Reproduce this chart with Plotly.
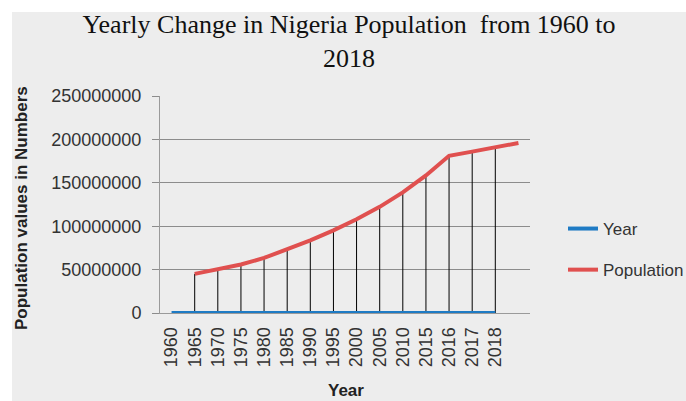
import plotly.graph_objects as go

# ---- data ----
years = ["1960", "1965", "1970", "1975", "1980", "1985", "1990", "1995",
         "2000", "2005", "2010", "2015", "2016", "2017", "2018"]
year_values = [1960, 1965, 1970, 1975, 1980, 1985, 1990, 1995,
               2000, 2005, 2010, 2015, 2016, 2017, 2018]
population = [45100000, 50200000, 55900000, 63400000, 73400000, 83600000,
              95200000, 107900000, 122300000, 138900000, 158500000,
              181100000, 185900000, 190900000, 195900000]
y_ticks = [0, 50000000, 100000000, 150000000, 200000000, 250000000]

# category slots: the Year series occupies slots 0..14, the Population
# series is shifted one slot to the right (slots 1..15), as in the original
year_x = list(range(len(year_values)))
pop_x = [i + 1 for i in range(len(population))]

# drop lines at categories where both series have points
drop_x, drop_y = [], []
for k in range(len(years) - 1):
    drop_x += [pop_x[k], pop_x[k], None]
    drop_y += [0, population[k], None]

W, H = 686, 401
L, R, T, B = 160, 156, 96, 88
PW, PH = W - L - R, H - T - B


def px(x):
    return (x - L) / PW


def py(y):
    return (H - B - y) / PH


fig = go.Figure()
fig.add_trace(go.Scatter(x=drop_x, y=drop_y, mode="lines",
                         line=dict(color="black", width=1),
                         showlegend=False, hoverinfo="skip"))
fig.add_trace(go.Scatter(x=year_x, y=year_values, mode="lines", name="Year",
                         line=dict(color="#1F7BC4", width=4),
                         legendgroup="a"))
fig.add_trace(go.Scatter(x=pop_x, y=population, mode="lines", name="Population",
                         line=dict(color="#E0504F", width=4),
                         legendgroup="b"))

fig.update_layout(
    width=W, height=H, autosize=False,
    margin=dict(l=L, r=R, t=T, b=B, pad=0, autoexpand=False),
    paper_bgcolor="white", plot_bgcolor="white",
    font=dict(family="Liberation Sans", size=18, color="#333333"),
    title=dict(text="Yearly Change in Nigeria Population  from 1960 to<br>2018",
               font=dict(family="Liberation Serif", size=26, color="#111111"),
               x=349 / W, xanchor="center", xref="container",
               yref="container", y=1 - 33 / H, yanchor="middle"),
    xaxis=dict(range=[-0.5, len(years) + 0.5], tickmode="array",
               tickvals=year_x, ticktext=years, tickangle=-90,
               showgrid=False, zeroline=False, showline=True,
               linecolor="#9a9a9a", linewidth=1, ticks="",
               tickfont=dict(size=18, color="#333333"),
               ticklabelstandoff=6, fixedrange=True),
    yaxis=dict(range=[0, 250000000], tickmode="array", tickvals=y_ticks,
               ticktext=[str(v) for v in y_ticks],
               showgrid=True, gridcolor="#8c8c8c", gridwidth=1,
               zeroline=False, showline=True, linecolor="#9a9a9a",
               ticks="outside", ticklen=7, tickcolor="#8c8c8c",
               tickfont=dict(size=18, color="#333333"),
               ticklabelstandoff=7, fixedrange=True),
    legend=dict(x=px(563), xanchor="left", y=py(249.5), yanchor="middle",
                bgcolor="rgba(0,0,0,0)", traceorder="grouped",
                tracegroupgap=16,
                font=dict(family="Liberation Sans", size=17, color="#333333")),
    shapes=[dict(type="rect", xref="paper", yref="paper",
                 x0=px(12), x1=px(W + 2), y0=py(H + 2), y1=py(12),
                 fillcolor="#EDEDED", line=dict(width=0), layer="below")],
    annotations=[
        dict(text="<b>Population values in Numbers</b>", textangle=-90,
             xref="paper", yref="paper", x=px(21), y=py(208),
             xanchor="center", yanchor="middle", showarrow=False,
             font=dict(family="Liberation Sans", size=17, color="#222222")),
        dict(text="<b>Year</b>", xref="paper", yref="paper",
             x=px(346), y=py(390), xanchor="center", yanchor="middle",
             showarrow=False,
             font=dict(family="Liberation Sans", size=17, color="#222222")),
    ],
)

fig.write_html("out.html", config={"displayModeBar": False},
               post_script="document.body.style.margin='0';"
                           "document.body.style.padding='0';")
